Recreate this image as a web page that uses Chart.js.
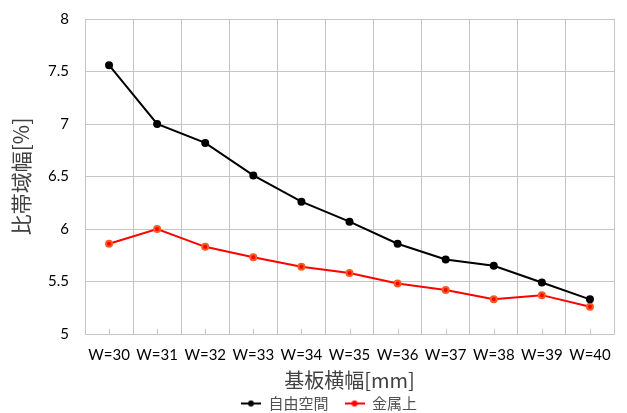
<!DOCTYPE html>
<html>
<head>
<meta charset="utf-8">
<script src="https://cdn.jsdelivr.net/npm/chart.js@4/dist/chart.umd.min.js"></script>
<style>
  html, body { margin: 0; padding: 0; background: #ffffff; }
  #wrap { width: 627px; height: 413px; }
</style>
</head>
<body>
<div id="wrap"><canvas id="c" width="627" height="413"></canvas></div>
<script>
// Substrate width categories
const categories = ["W=30", "W=31", "W=32", "W=33", "W=34", "W=35", "W=36", "W=37", "W=38", "W=39", "W=40"];
// Fractional bandwidth [%] in free space
const freeSpace = [7.56, 7.00, 6.82, 6.51, 6.26, 6.07, 5.86, 5.71, 5.65, 5.49, 5.33];
// Fractional bandwidth [%] on metal
const onMetal = [5.86, 6.00, 5.83, 5.73, 5.64, 5.58, 5.48, 5.42, 5.33, 5.37, 5.26];
// Y axis range and step
const yMin = 5, yMax = 8, yStep = 0.5;

const latin = "Lato, 'Noto Sans', sans-serif";
const cjk = "'Noto Sans CJK JP', sans-serif";
const gridColor = "#c4c4c4";

// legend marker: a short line with a dot in the middle
function lineMarker(color) {
  const c = document.createElement("canvas");
  c.width = 20; c.height = 8;
  const g = c.getContext("2d");
  g.strokeStyle = color; g.lineWidth = 2;
  g.beginPath(); g.moveTo(0, 4); g.lineTo(20, 4); g.stroke();
  g.fillStyle = color;
  g.beginPath(); g.arc(10, 4, 3, 0, Math.PI * 2); g.fill();
  return c;
}

// short tick marks at category centres, just inside the bottom edge
const centreTicks = {
  id: "centreTicks",
  afterDatasetsDraw(chart) {
    const x = chart.scales.x, area = chart.chartArea, ctx = chart.ctx;
    ctx.save();
    ctx.strokeStyle = gridColor;
    ctx.lineWidth = 1;
    categories.forEach((c, i) => {
      const px = Math.round(x.getPixelForValue(i)) + 0.5;
      ctx.beginPath();
      ctx.moveTo(px, area.bottom);
      ctx.lineTo(px, area.bottom - 5);
      ctx.stroke();
    });
    ctx.restore();
  }
};

// nudge the legend row a little to the right, under the plot centre
const legendShift = {
  id: "legendShift",
  afterLayout(chart) {
    if (chart.legend) {
      chart.legend.left += 18;
      chart.legend.right += 18;
    }
  }
};

new Chart(document.getElementById("c"), {
  type: "line",
  data: {
    labels: categories,
    datasets: [
      {
        label: "自由空間",
        data: freeSpace,
        borderColor: "#000000",
        backgroundColor: "#000000",
        borderWidth: 2,
        pointRadius: 3,
        pointHoverRadius: 3,
        tension: 0
      },
      {
        label: "金属上",
        data: onMetal,
        borderColor: "#ff0000",
        backgroundColor: "#ff0000",
        pointBorderColor: "#ff5a1e",
        borderWidth: 2,
        pointRadius: 3,
        pointHoverRadius: 3,
        tension: 0
      }
    ]
  },
  options: {
    responsive: false,
    animation: false,
    layout: { padding: { left: 8, right: 13, top: 19, bottom: -8 } },
    plugins: {
      tooltip: { enabled: false },
      legend: {
        position: "bottom",
        labels: {
          font: { family: cjk, size: 15 },
          color: "#505050",
          usePointStyle: true,
          pointStyleWidth: 20,
          boxWidth: 20,
          boxHeight: 8,
          padding: 16,
          generateLabels(chart) {
            return chart.data.datasets.map((d, i) => ({
              text: d.label,
              fillStyle: d.borderColor,
              strokeStyle: d.borderColor,
              lineWidth: 0,
              pointStyle: lineMarker(d.borderColor),
              datasetIndex: i,
              fontColor: "#505050"
            }));
          }
        }
      }
    },
    scales: {
      x: {
        offset: true,
        grid: { offset: true, color: gridColor, lineWidth: 1, drawTicks: false },
        border: { color: gridColor },
        ticks: {
          font: { family: latin, size: 15 },
          color: "#000000",
          padding: 12,
          maxRotation: 0,
          autoSkip: false
        },
        title: {
          display: true,
          text: "基板横幅[mm]",
          font: { family: cjk, size: 20 },
          color: "#404040",
          padding: { top: 0, bottom: -12 }
        },
        afterFit(scale) { scale.height = 46; }
      },
      y: {
        min: yMin,
        max: yMax,
        grid: { color: gridColor, lineWidth: 1, drawTicks: false },
        border: { color: gridColor },
        ticks: {
          stepSize: yStep,
          font: { family: latin, size: 15 },
          color: "#000000",
          padding: 16,
          callback: v => String(v)
        },
        title: {
          display: true,
          text: "比帯域幅[%]",
          font: { family: cjk, size: 21 },
          color: "#404040",
          padding: { top: 0, bottom: 2 }
        },
        afterFit(scale) {
          scale.width = 77;
          scale.paddingTop = 9;
          scale.paddingBottom = 9;
        }
      }
    }
  },
  plugins: [centreTicks, legendShift]
});
</script>
</body>
</html>
